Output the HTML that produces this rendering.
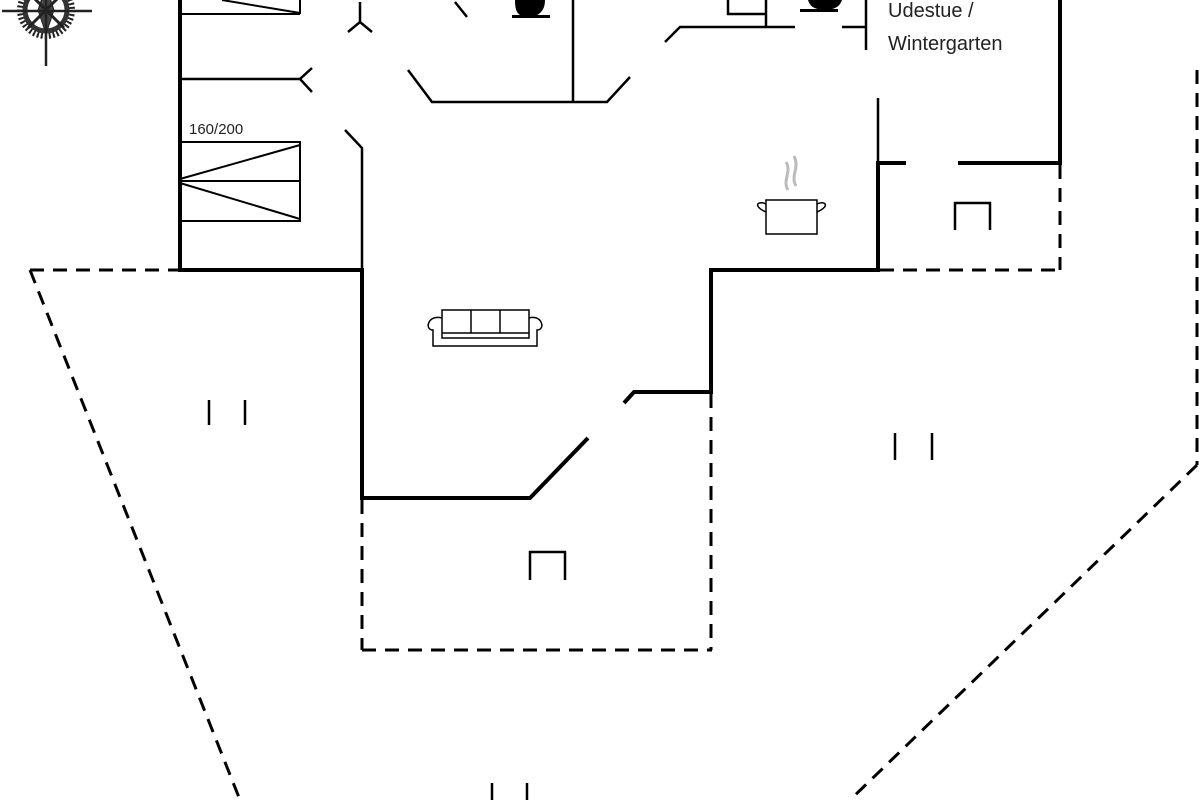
<!DOCTYPE html>
<html><head><meta charset="utf-8"><style>
html,body{margin:0;padding:0;background:#fff;width:1200px;height:800px;overflow:hidden}
</style></head><body>
<svg width="1200" height="800" viewBox="0 0 1200 800" xmlns="http://www.w3.org/2000/svg">
<g fill="none" stroke="#000" stroke-linecap="butt">
<g stroke-width="4">
<line x1="180" y1="0" x2="180" y2="272"/>
<line x1="178" y1="270" x2="364" y2="270"/>
<line x1="362" y1="268" x2="362" y2="500"/>
<polyline points="360,498 530,498 588,438"/>
<polyline points="624,403 634,392 711,392 711,268"/>
<polyline points="709,270 880,270"/>
<line x1="878" y1="272" x2="878" y2="161"/>
<line x1="876" y1="163" x2="906" y2="163"/>
<line x1="958" y1="163" x2="1062" y2="163"/>
<line x1="1060" y1="0" x2="1060" y2="165"/>
</g>
<g stroke-width="2.5">
<line x1="180" y1="79" x2="300" y2="79"/>
<polyline points="312,68 300,79 312,92"/>
<polyline points="348,32 360,22 372,32"/>
<line x1="360" y1="22" x2="360" y2="2"/>
<polyline points="345,130 362,148 362,270"/>
<polyline points="408,70 432,102 607,102 630,77"/>
<line x1="573" y1="0" x2="573" y2="102"/>
<line x1="455" y1="2" x2="467" y2="17"/>
<polyline points="665,42 680,27 795,27"/>
<line x1="766" y1="0" x2="766" y2="27"/>
<polyline points="728,0 728,14 766,14"/>
<line x1="842" y1="27" x2="866" y2="27"/>
<line x1="866" y1="0" x2="866" y2="50"/>
<line x1="878" y1="98" x2="878" y2="165"/>
</g>
<g stroke-width="2">
<line x1="180" y1="14" x2="300" y2="14"/>
<line x1="300" y1="0" x2="300" y2="14"/>
<line x1="222" y1="0" x2="300" y2="13"/>
<rect x="180" y="142" width="120" height="79"/>
<line x1="180" y1="181" x2="300" y2="181"/>
<line x1="180" y1="179" x2="300" y2="145"/>
<line x1="180" y1="183" x2="300" y2="219"/>
</g>
<g stroke-width="3" stroke-dasharray="14,9">
<line x1="30" y1="270" x2="178" y2="270"/>
<line x1="30" y1="270" x2="240" y2="800"/>
<line x1="1197" y1="70" x2="1197" y2="465"/>
<line x1="1197" y1="465" x2="850" y2="800"/>
<line x1="362" y1="500" x2="362" y2="650"/>
<line x1="362" y1="650" x2="712" y2="650"/>
<line x1="711" y1="394" x2="711" y2="650"/>
<line x1="1060" y1="165" x2="1060" y2="270"/>
<line x1="880" y1="270" x2="1060" y2="270"/>
</g>
<g stroke-width="2.5">
<line x1="209" y1="400" x2="209" y2="425"/><line x1="245" y1="400" x2="245" y2="425"/>
<line x1="895" y1="433" x2="895" y2="460"/><line x1="932" y1="433" x2="932" y2="460"/>
<line x1="492" y1="783" x2="492" y2="800"/><line x1="527" y1="783" x2="527" y2="800"/>
<polyline points="530,580 530,552 565,552 565,580"/>
<polyline points="955,230 955,203 990,203 990,230"/>
</g>
<g stroke-width="1.5">
<rect x="442" y="310" width="87" height="28"/>
<line x1="471" y1="310" x2="471" y2="333"/><line x1="500" y1="310" x2="500" y2="333"/>
<line x1="442" y1="333" x2="529" y2="333"/>
<path d="M442,318 C428,314 424,330 433,330 L433,346 L537,346 L537,330 C546,330 542,314 529,318"/>
</g>
<g stroke-width="1.5">
<rect x="766" y="200" width="51" height="34"/>
<path d="M766,204 C758,200 752,206 766,212"/>
<path d="M817,204 C825,200 831,206 817,212"/>
</g>
<g stroke="#bbb" stroke-width="3">
<path d="M788,190 C782,180 792,172 786,162"/>
<path d="M796,186 C790,176 800,168 794,156"/>
</g>
</g>
<path d="M515,0 L545,0 C545,10 540,14 535,16 L522,16 C517,14 515,10 515,0Z" fill="#000"/>
<rect x="512" y="15" width="38" height="3" fill="#000"/>
<path d="M808,0 L842,0 C840,6 836,8 832,9 L818,9 C813,8 810,6 808,0Z" fill="#000"/>
<rect x="800" y="9" width="38" height="3" fill="#000"/>
<g stroke="#222" fill="none">
<circle cx="46" cy="10" r="26" stroke-width="6" stroke-dasharray="2,2"/>
<circle cx="46" cy="10" r="21" stroke-width="5" stroke="#333"/>
<polygon points="46,-14 54,10 46,34 38,10" fill="#444"/>
<polygon points="28,-8 46,10 64,28 46,10" stroke-width="3"/>
<line x1="64" y1="-8" x2="28" y2="28" stroke-width="3"/>
<line x1="46" y1="-20" x2="46" y2="66" stroke-width="2.5"/>
<line x1="2" y1="11" x2="92" y2="11" stroke-width="2.5"/>
</g>
<g font-family="Liberation Sans, sans-serif" fill="#222">
<text x="189" y="134" font-size="15">160/200</text>
<text x="888" y="17" font-size="20">Udestue /</text>
<text x="888" y="50" font-size="20">Wintergarten</text>
</g>
</svg>
</body></html>
